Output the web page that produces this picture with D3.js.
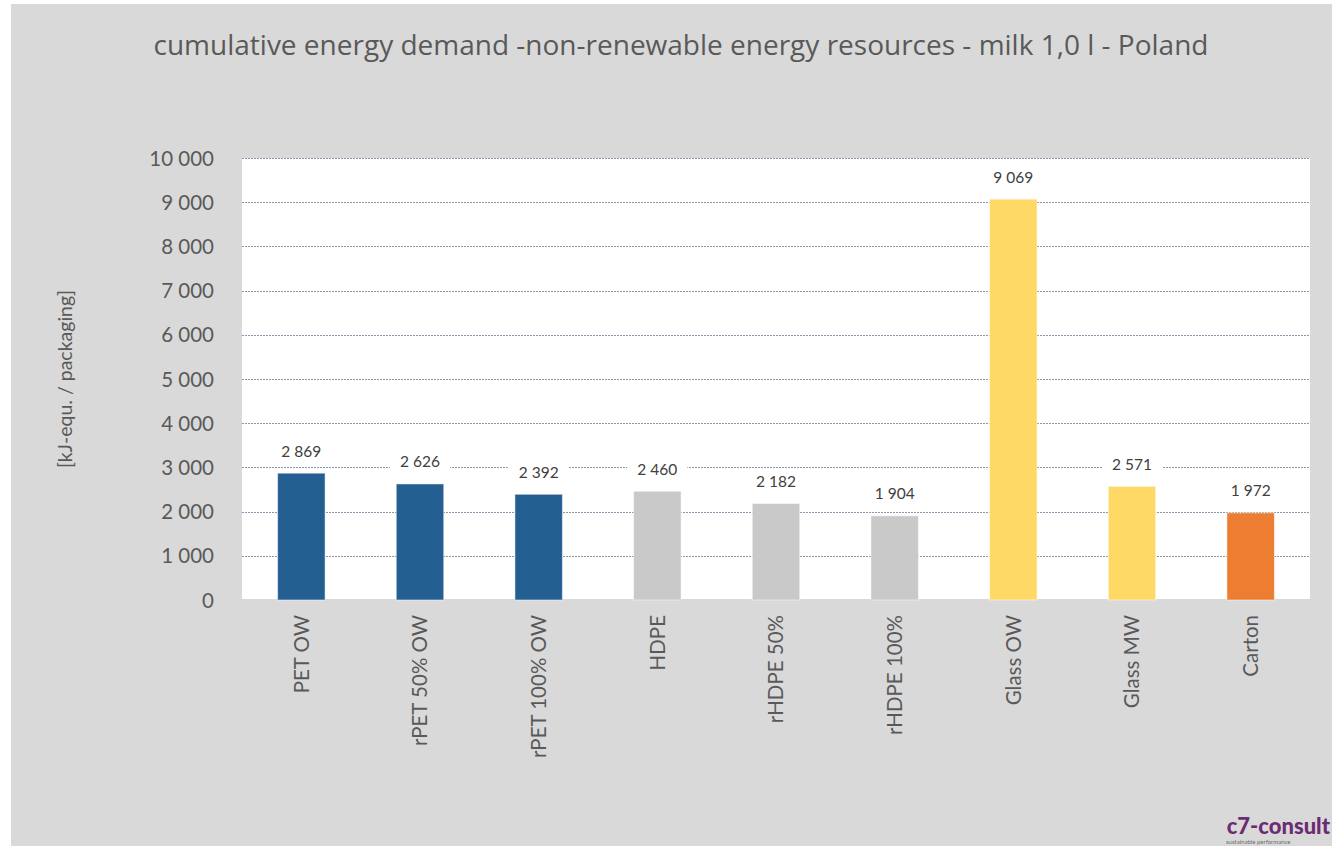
<!DOCTYPE html>
<html>
<head>
<meta charset="utf-8">
<script src="https://cdn.jsdelivr.net/npm/d3@7"></script>
<style>
  html, body { margin: 0; padding: 0; background: #ffffff; }
  svg { display: block; }
  text { font-family: Lato, "Open Sans", sans-serif; }
</style>
</head>
<body>
<svg id="chart" width="1332" height="846"></svg>
<script>
const categories = ["PET OW", "rPET 50% OW", "rPET 100% OW", "HDPE", "rHDPE 50%", "rHDPE 100%", "Glass OW", "Glass MW", "Carton"];
const values = [2869, 2626, 2392, 2460, 2182, 1904, 9069, 2571, 1972];
const barColors = ["#245F91", "#245F91", "#245F91", "#C9C9C9", "#C9C9C9", "#C9C9C9", "#FFD966", "#FFD966", "#ED7D31"];
const yTicks = [0, 1000, 2000, 3000, 4000, 5000, 6000, 7000, 8000, 9000, 10000];
const titleText = "cumulative energy demand -non-renewable energy resources - milk 1,0 l - Poland";
const yAxisTitle = "[kJ-equ. / packaging]";

const svg = d3.select("#chart");
const W = 1332, H = 846;
const plot = { left: 242, right: 1310, top: 158, bottom: 600 };

// chart background
svg.append("rect").attr("x", 11).attr("y", 4).attr("width", W - 11).attr("height", H - 4).attr("fill", "#D9D9D9");
// plot area
svg.append("rect").attr("x", plot.left).attr("y", plot.top).attr("width", plot.right - plot.left).attr("height", plot.bottom - plot.top).attr("fill", "#FFFFFF");

const fmt = v => d3.format(",")(v).replace(/,/g, " ");

const x = d3.scaleBand().domain(categories).range([plot.left, plot.right]).paddingInner(0.6).paddingOuter(0.3);
const y = d3.scaleLinear().domain([0, 10000]).range([plot.bottom, plot.top]);

// gridlines
svg.append("g").selectAll("line").data(yTicks.filter(d => d > 0)).join("line")
  .attr("x1", plot.left).attr("x2", plot.right)
  .attr("y1", d => Math.round(y(d)) + 0.5).attr("y2", d => Math.round(y(d)) + 0.5)
  .attr("stroke", "#8C96A8").attr("stroke-width", 1).attr("stroke-dasharray", "2,1");

// baseline
svg.append("line").attr("x1", plot.left).attr("x2", plot.right)
  .attr("y1", y(0) - 0.5).attr("y2", y(0) - 0.5).attr("stroke", "#D9D9D9").attr("stroke-width", 1);

// y axis
const yAxis = d3.axisLeft(y).tickValues(yTicks).tickSize(0).tickPadding(0).tickFormat(fmt);
const gy = svg.append("g").attr("transform", `translate(${plot.left - 28},0)`).call(yAxis);
gy.select(".domain").remove();
gy.selectAll("text").attr("fill", "#595959").style("font-size", "20.5px").style("font-family", "Lato, 'Open Sans', sans-serif").attr("dy", "0.35em");

// bars
svg.append("g").selectAll("rect").data(categories).join("rect")
  .attr("x", d => x(d)).attr("width", x.bandwidth())
  .attr("y", (d, i) => y(values[i])).attr("height", (d, i) => y(0) - y(values[i]))
  .attr("fill", (d, i) => barColors[i])
  .attr("stroke", "#FFFFFF").attr("stroke-opacity", 0.5).attr("stroke-width", 1);

// data labels with white background
const lbl = svg.append("g").selectAll("g").data(categories).join("g")
  .attr("transform", (d, i) => `translate(${x(d) + x.bandwidth() / 2},${y(values[i]) - 22})`);
lbl.append("text").attr("text-anchor", "middle").attr("dy", "0.35em")
  .attr("fill", "#404040").style("font-size", "15.5px")
  .text((d, i) => fmt(values[i]))
  .each(function () {
    const b = this.getBBox();
    d3.select(this.parentNode).insert("rect", "text")
      .attr("x", b.x - 10).attr("y", b.y - 2).attr("width", b.width + 20).attr("height", b.height + 4)
      .attr("fill", "#FFFFFF");
  });

// x axis labels
const xAxis = d3.axisBottom(x).tickSize(0).tickPadding(0);
const gx = svg.append("g").attr("transform", `translate(0,${plot.bottom + 15})`).call(xAxis);
gx.select(".domain").remove();
gx.selectAll("text")
  .attr("fill", "#595959").style("font-size", "20.5px").style("font-family", "Lato, 'Open Sans', sans-serif")
  .attr("text-anchor", "end").attr("transform", "rotate(-90)")
  .attr("x", 0).attr("y", 0).attr("dx", 0).attr("dy", "0.35em");

// title
svg.append("text").attr("x", 681).attr("y", 55).attr("text-anchor", "middle")
  .attr("fill", "#595959").style("font-size", "28px").style("font-family", "'Open Sans', sans-serif").text(titleText);

// y axis title
svg.append("text").attr("transform", "translate(65,379) rotate(-90)").attr("text-anchor", "middle")
  .attr("dy", "0.35em").attr("fill", "#595959").style("font-size", "19.5px").text(yAxisTitle);

// logo
svg.append("text").attr("x", 1330).attr("y", 834).attr("text-anchor", "end")
  .attr("fill", "#6B2C72").style("font-size", "22px").style("font-weight", "900").text("c7-consult");
svg.append("text").attr("x", 1226).attr("y", 844).attr("text-anchor", "start")
  .attr("fill", "#6B6B6B").style("font-size", "6px").text("sustainable performance");
</script>
</body>
</html>
